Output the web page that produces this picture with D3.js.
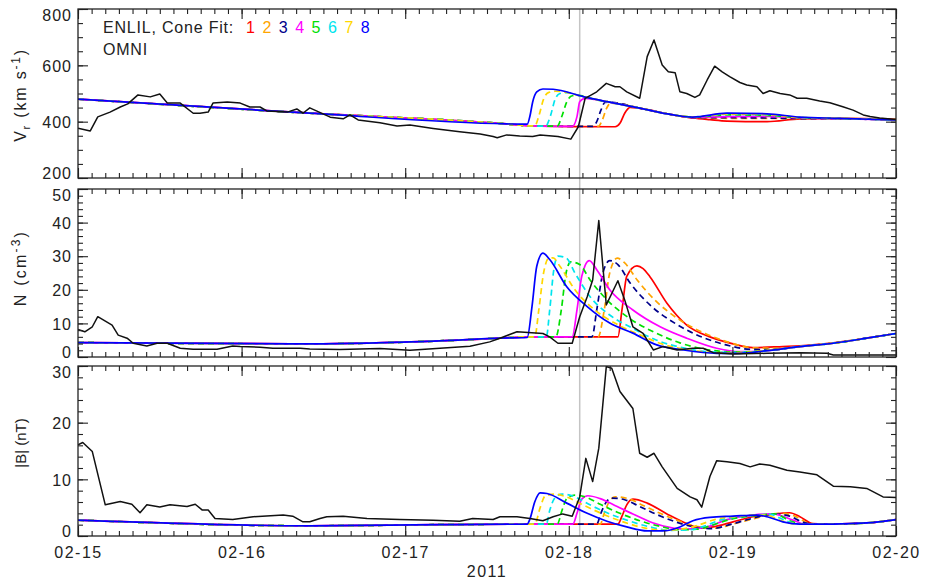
<!DOCTYPE html>
<html lang="en">

<head>
  <meta charset="UTF-8">
  <title>ENLIL cone fit vs OMNI</title>
  <style>
    body {
      margin: 0;
      background: #fff;
    }

    svg text {
      font-family: "Liberation Sans", Arial, sans-serif;
      fill: #222;
    }

    .tick line {
      stroke: #222;
    }
  </style>
</head>

<body>
  <svg id="chart" width="930" height="583"></svg>
  <script src="https://d3js.org/d3.v7.min.js"></script>
  <script>
    // time in hours from 2011-02-15 00:00 UT, value
    let omniVr = [[0, 377], [1.8, 367], [2.9, 417], [4.7, 434], [6.2, 452], [7.3, 463], [8.8, 495], [10.6, 488], [12.0, 498], [13.1, 466], [15.0, 466], [16.9, 430], [17.9, 430], [19.1, 434], [19.8, 466], [21.9, 470], [23.8, 466], [25.2, 452], [26.7, 452], [27.7, 438], [30.7, 434], [32.1, 445], [33.0, 430], [34.0, 449], [37.0, 416], [38.9, 410], [39.9, 424], [41.1, 406], [44.3, 396], [46.8, 385], [48.7, 388], [52.1, 376], [56.0, 364], [59.0, 356], [60.9, 347], [61.5, 343], [62.9, 353], [64.8, 349], [66.7, 347], [67.8, 353], [70.4, 347], [72.3, 338], [73.4, 382], [74.4, 483], [76.1, 506], [77.5, 536], [78.8, 524], [79.5, 524], [80.5, 506], [82.4, 483], [83.5, 631], [84.5, 690], [85.7, 601], [86.6, 577], [87.6, 574], [88.3, 506], [89.3, 500], [90.5, 486], [91.2, 495], [92.3, 548], [93.4, 597], [94.5, 577], [95.6, 560], [97.1, 539], [98.1, 530], [99.6, 524], [100.5, 500], [101.5, 510], [103.0, 500], [104.4, 495], [105.5, 483], [106.9, 483], [108.8, 473], [110.3, 467], [112.2, 453], [113.7, 441], [115.2, 424], [116.2, 418], [117.6, 413], [120, 408]]
    let omniN = [[0, 8.2], [1.0, 7.5], [2.1, 9.0], [2.9, 12], [5.0, 9.5], [5.9, 6.5], [7.2, 5.6], [8.1, 4.1], [10.1, 3.3], [11.6, 4.1], [13.1, 4.1], [15.0, 2.6], [16.9, 2.3], [20.4, 2.3], [22.7, 3.3], [23.8, 3.1], [26.7, 2.9], [28.6, 2.6], [32.6, 2.6], [34.0, 2.4], [38.4, 2.2], [44.3, 2.5], [48.7, 2.0], [53.1, 2.6], [57.5, 3.2], [60.4, 4.5], [61.9, 5.6], [64.4, 7.5], [68.2, 7.0], [69.2, 6.0], [70.4, 4.1], [72.5, 4.1], [73.6, 12], [74.7, 17.9], [75.5, 22.9], [76.4, 40.6], [77.5, 15.5], [79.2, 22.7], [80.2, 17], [81.4, 9], [82.9, 7], [84.4, 2.1], [85.8, 3.1], [87.9, 2.1], [90.2, 2.6], [91.7, 2.6], [93.2, 1.3], [96.1, 0.9], [101.1, 1.1], [105.9, 1.3], [109.9, 1.1], [110.8, 0.6], [115.7, 0.6], [120, 0.6]]
    let omniB = [[0, 16.1], [0.7, 16.5], [2.1, 14.9], [4.0, 5.5], [6.2, 6.1], [7.9, 5.6], [9.1, 4.1], [10.1, 5.5], [12.0, 5.1], [13.5, 5.5], [16.0, 5.2], [17.2, 5.6], [18.2, 4.6], [19.1, 4.6], [20.1, 3.1], [22.7, 2.9], [25.7, 3.4], [30.1, 3.7], [31.5, 3.5], [33.0, 2.5], [34.0, 2.5], [35.5, 3.1], [36.5, 3.4], [38.9, 3.5], [42.4, 3.1], [47.2, 2.9], [52.1, 2.8], [56.0, 2.6], [57.9, 3.1], [60.9, 2.9], [61.9, 3.4], [64.4, 3.4], [66.3, 3.1], [68.2, 2.7], [69.7, 3.4], [71.1, 3.9], [72.5, 3.5], [73.6, 6.9], [74.5, 13.7], [75.5, 9.6], [76.4, 15.5], [77.5, 29.9], [78.3, 29.6], [79.5, 25.5], [81.4, 22.5], [82.4, 14.6], [83.5, 13.9], [84.5, 14.6], [85.7, 12.2], [87.9, 8.4], [89.8, 6.9], [90.8, 6.4], [91.5, 5.1], [92.7, 10.5], [93.7, 13.3], [95.2, 13.1], [97.1, 12.8], [98.6, 12.2], [100.0, 12.7], [101.5, 12.5], [104.0, 11.6], [105.9, 11.3], [108.4, 10.8], [110.8, 8.8], [113.3, 8.7], [115.7, 8.4], [118.1, 6.9], [120, 6.8]]

    // ENLIL cone fit runs 1..8
    let vrRun1 = [[0, 480], [34.0, 430], [62.9, 392], [66.3, 385], [78.8, 382], [79.5, 394], [80.2, 430], [81.0, 451], [82.4, 447], [87.3, 424], [90.2, 413], [92.7, 407], [95.2, 402], [101.1, 400], [105.9, 410], [111.8, 412], [120, 410]]
    let vrRun2 = [[0, 480], [34.0, 430], [62.9, 392], [66.3, 385], [76.3, 383], [76.9, 405], [77.5, 445], [78.1, 465], [78.8, 465], [82.4, 448], [87.3, 424], [90.2, 414], [95.2, 412], [101.1, 412], [105.9, 411], [111.8, 410], [120, 407]]
    let vrRun3 = [[0, 480], [34.0, 430], [62.9, 392], [66.3, 385], [75.5, 383], [76.1, 400], [76.7, 440], [77.3, 468], [78.0, 469], [82.4, 448], [87.3, 424], [90.2, 414], [95.2, 414], [101.1, 413], [105.9, 411], [111.8, 410], [120, 406]]
    let vrRun4 = [[0, 480], [34.0, 430], [62.9, 392], [66.3, 385], [72.5, 383], [73.2, 418], [73.6, 471], [74.4, 483], [75.8, 479], [77.6, 471], [82.4, 448], [87.3, 424], [90.2, 415], [95.2, 418], [101.1, 419], [105.9, 413], [111.8, 410], [120, 407]]
    let vrRun5 = [[0, 480], [34.0, 430], [62.9, 392], [66.3, 385], [70.3, 384], [71.0, 420], [71.7, 470], [72.5, 492], [73.4, 493], [75.8, 479], [77.6, 471], [82.4, 448], [87.3, 424], [90.2, 416], [95.2, 424], [101.1, 422], [105.9, 414], [111.8, 411], [120, 407]]
    let vrRun6 = [[0, 480], [34.0, 430], [62.9, 392], [66.3, 385], [68.6, 384], [69.3, 420], [70.0, 480], [70.7, 500], [71.6, 503], [74.1, 489], [77.6, 471], [82.4, 448], [87.3, 424], [90.2, 417], [95.2, 426], [101.1, 424], [105.9, 415], [111.8, 411], [120, 407]]
    let vrRun7 = [[0, 480], [34.0, 430], [62.9, 392], [66.3, 385], [67.0, 385], [67.6, 420], [68.3, 480], [69.0, 503], [70.0, 508], [71.1, 506], [74.1, 489], [77.6, 471], [82.4, 448], [87.3, 424], [90.2, 417], [95.2, 427], [101.1, 425], [105.9, 415], [111.8, 412], [120, 407]]
    let vrRun8 = [[0, 480], [34.0, 430], [62.9, 392], [65.9, 391], [66.3, 420], [66.7, 470], [67.3, 506], [68.2, 516], [69.7, 515], [74.1, 489], [77.6, 471], [82.4, 448], [87.3, 424], [90.2, 416], [95.2, 430], [101.1, 428], [105.9, 416], [111.8, 412], [120, 406]]

    let nRun1 = [[0, 4.3], [34.0, 3.9], [53.1, 4.8], [61.9, 5.6], [66.3, 6.0], [79.2, 6.0], [79.8, 14], [80.5, 24], [82.0, 27.1], [82.9, 26.3], [83.9, 23.9], [86.4, 16], [89.3, 9.5], [92.7, 6], [96.1, 3.9], [99.0, 2.8], [103.4, 3.1], [105.9, 3.3], [110.8, 4.2], [115.7, 5.6], [120, 7.0]]
    let nRun2 = [[0, 4.3], [34.0, 3.9], [53.1, 4.8], [61.9, 5.6], [66.3, 6.0], [76.3, 6.0], [77.2, 14], [78.0, 25], [79.1, 29.4], [80.2, 28], [82.0, 23], [84.6, 17], [88.3, 11], [92.0, 7], [95.6, 4.3], [99.3, 2.7], [103.0, 2.6], [105.9, 3.1], [110.8, 4.1], [115.7, 5.6], [120, 7.0]]
    let nRun3 = [[0, 4.3], [34.0, 3.9], [53.1, 4.8], [61.9, 5.6], [66.3, 6.0], [75.4, 6.0], [76.1, 14], [77.0, 25], [78.0, 28.7], [79.2, 27.5], [81.0, 22], [83.9, 15.5], [87.6, 10], [91.2, 6.2], [94.9, 3.7], [98.6, 2.3], [102.2, 2.2], [105.9, 3.1], [110.8, 4.1], [115.7, 5.6], [120, 7.0]]
    let nRun4 = [[0, 4.3], [34.0, 3.9], [53.1, 4.8], [61.9, 5.6], [66.3, 6.0], [72.5, 6.0], [73.2, 14], [73.9, 24], [75.0, 28.7], [76.1, 26], [78.0, 20], [81.4, 14], [85.4, 9], [89.3, 5.6], [93.7, 2.6], [97.1, 1.6], [101.5, 2.0], [105.9, 3.1], [110.8, 4.1], [115.7, 5.6], [120, 7.0]]
    let nRun5 = [[0, 4.3], [34.0, 3.9], [53.1, 4.8], [61.9, 5.6], [66.3, 6.0], [70.1, 6.0], [70.9, 14], [71.6, 25], [72.3, 28.3], [73.6, 27.5], [75.1, 23], [77.6, 17], [80.9, 11.5], [84.6, 7.3], [88.3, 4.2], [92.0, 2.3], [96.4, 1.5], [100.8, 1.9], [105.9, 3.1], [110.8, 4.1], [115.7, 5.6], [120, 7.0]]
    let nRun6 = [[0, 4.3], [34.0, 3.9], [53.1, 4.8], [61.9, 5.6], [66.3, 6.0], [68.7, 6.0], [69.2, 14], [69.8, 26], [70.4, 30], [71.6, 29.5], [72.9, 25], [75.1, 18], [78.0, 12.5], [81.4, 8.5], [84.9, 5], [88.8, 2.7], [92.7, 1.5], [97.1, 1.4], [101.5, 2.0], [105.9, 3.1], [110.8, 4.1], [115.7, 5.6], [120, 7.0]]
    let nRun7 = [[0, 4.3], [34.0, 3.9], [53.1, 4.8], [61.9, 5.6], [66.3, 6.0], [67.0, 6.0], [67.6, 14], [68.3, 25], [69.0, 29.3], [69.7, 29.5], [70.7, 27], [72.9, 20], [75.8, 14], [79.2, 9.6], [82.4, 6.6], [86.1, 3.6], [89.8, 2.0], [94.2, 1.3], [97.8, 1.4], [101.5, 2.1], [105.9, 3.1], [110.8, 4.1], [115.7, 5.6], [120, 7.0]]
    let nRun8 = [[0, 4.3], [34.0, 3.9], [53.1, 4.8], [61.9, 5.6], [65.9, 5.8], [66.6, 15], [67.3, 27], [68.2, 30.9], [69.2, 29], [71.7, 20.9], [74.7, 15], [78.0, 10.1], [81.4, 7.1], [84.9, 3.6], [88.8, 2.1], [93.7, 1.1], [97.1, 1.1], [101.1, 1.9], [105.9, 3.1], [110.8, 4.1], [115.7, 5.6], [120, 7.0]]

    let bRun1 = [[0, 2.8], [34.0, 1.8], [53.1, 2.0], [65.9, 2.1], [79.2, 2.1], [79.8, 3.5], [80.5, 5.5], [81.4, 6.5], [83.5, 5.8], [86.4, 3.9], [89.3, 2.2], [91.2, 1.4], [93.2, 1.6], [96.1, 2.5], [99.0, 3.4], [101.1, 3.7], [104.4, 4.1], [105.9, 3.4], [107.8, 2.2], [110.8, 2.1], [115.7, 2.3], [120, 2.9]]
    let bRun2 = [[0, 2.8], [34.0, 1.8], [53.1, 2.0], [65.9, 2.1], [76.6, 2.1], [77.2, 4], [77.9, 6], [78.8, 6.9], [80.7, 6.6], [82.9, 5.4], [85.4, 4.0], [88.3, 2.6], [91.2, 1.6], [93.4, 1.4], [96.1, 2.1], [99.3, 3.1], [103.0, 4.0], [105.2, 3.5], [107.1, 2.3], [108.6, 2.1], [110.8, 2.1], [115.7, 2.3], [120, 2.9]]
    let bRun3 = [[0, 2.8], [34.0, 1.8], [53.1, 2.0], [65.9, 2.1], [76.1, 2.1], [76.7, 4], [77.5, 6], [78.3, 6.7], [80.2, 6.4], [82.4, 5.2], [84.9, 3.8], [87.9, 2.4], [90.8, 1.5], [93.0, 1.3], [95.6, 2.0], [98.6, 3.0], [102.2, 3.9], [104.4, 3.5], [106.4, 2.4], [108.1, 2.1], [110.8, 2.1], [115.7, 2.3], [120, 2.9]]
    let bRun4 = [[0, 2.8], [34.0, 1.8], [53.1, 2.0], [65.9, 2.1], [72.6, 2.1], [73.2, 4], [73.9, 6.5], [74.8, 7.1], [76.6, 6.6], [79.1, 5.2], [81.4, 3.9], [84.4, 2.3], [87.3, 1.4], [89.3, 1.2], [92.3, 1.6], [95.2, 2.9], [99.0, 3.7], [101.9, 3.9], [104.9, 2.8], [106.6, 2.1], [110.8, 2.1], [115.7, 2.3], [120, 2.9]]
    let bRun5 = [[0, 2.8], [34.0, 1.8], [53.1, 2.0], [65.9, 2.1], [70.3, 2.1], [71.0, 4.5], [71.7, 6.6], [72.9, 7.2], [74.4, 6.9], [76.6, 5.6], [79.5, 4.0], [82.4, 2.7], [85.4, 1.7], [88.3, 1.1], [90.8, 1.2], [93.0, 1.9], [95.6, 2.9], [99.3, 3.6], [102.2, 3.9], [104.4, 2.7], [106.6, 2.1], [110.8, 2.1], [115.7, 2.3], [120, 2.9]]
    let bRun6 = [[0, 2.8], [34.0, 1.8], [53.1, 2.0], [65.9, 2.1], [68.7, 2.1], [69.2, 4.5], [70.0, 6.8], [71.0, 7.4], [72.5, 7.1], [75.1, 5.5], [78.0, 3.9], [81.0, 2.6], [83.9, 1.6], [86.8, 1.0], [89.8, 1.1], [92.0, 1.8], [94.2, 2.8], [97.8, 3.5], [101.5, 3.8], [104.0, 2.6], [106.2, 2.1], [110.8, 2.1], [115.7, 2.3], [120, 2.9]]
    let bRun7 = [[0, 2.8], [34.0, 1.8], [53.1, 2.0], [65.9, 2.1], [67.0, 2.1], [67.8, 5], [68.5, 7], [70.0, 7.4], [71.4, 7.0], [74.4, 5.3], [77.3, 3.7], [80.2, 2.4], [83.2, 1.4], [86.1, 1.0], [89.0, 1.3], [91.2, 2.0], [93.4, 2.9], [97.1, 3.5], [100.8, 3.7], [103.4, 2.6], [105.9, 2.1], [110.8, 2.1], [115.7, 2.3], [120, 2.9]]
    let bRun8 = [[0, 2.8], [34.0, 1.8], [53.1, 2.0], [65.9, 2.1], [66.3, 3], [67.0, 6], [67.8, 7.6], [68.8, 7.5], [71.7, 5.8], [74.7, 4.0], [77.6, 2.6], [80.5, 1.6], [83.5, 0.9], [85.8, 0.9], [88.3, 1.6], [90.2, 2.7], [92.7, 3.3], [96.1, 3.5], [99.6, 3.7], [101.1, 3.4], [103.4, 2.5], [105.9, 2.1], [110.8, 2.1], [115.7, 2.3], [120, 2.9]]

    let runLabels = ['1', '2', '3', '4', '5', '6', '7', '8']
    let runColors = ['#ff0000', '#ffa500', '#00008b', '#ff00ff', '#00e000', '#00e5ee', '#ffd700', '#0000ff']
    let runDashed = [false, true, true, false, true, true, true, false]

    let markerHour = 73.6 // grey line

    let panels = [
      { runs: [vrRun1, vrRun2, vrRun3, vrRun4, vrRun5, vrRun6, vrRun7, vrRun8], omni: omniVr, domain: [200, 800], major: 200, minor: 50, top: 9, bottom: 178, label: 'vr', labelY: 95 },
      { runs: [nRun1, nRun2, nRun3, nRun4, nRun5, nRun6, nRun7, nRun8], omni: omniN, domain: [0, 50], major: 10, minor: 2, top: 189, bottom: 357, label: 'n', labelY: 268 },
      { runs: [bRun1, bRun2, bRun3, bRun4, bRun5, bRun6, bRun7, bRun8], omni: omniB, domain: [0, 30], major: 10, minor: 2, top: 366, bottom: 536, label: 'b', labelY: 443 }
    ]

    let left = 78
    let right = 896
    let t0 = Date.UTC(2011, 1, 15)
    let toDate = h => new Date(t0 + h * 3600e3)

    let svg = d3.select('#chart')

    let x = d3.scaleUtc()
      .domain([toDate(0), toDate(120)])
      .range([left, right])

    let hourTicks = d3.utcHour.every(2).range(toDate(0), toDate(120.01))
    let dayTicks = d3.utcDay.range(toDate(0), toDate(120.01))

    // grey marker line across all panels
    svg.append('line')
      .attr('x1', x(toDate(markerHour)))
      .attr('x2', x(toDate(markerHour)))
      .attr('y1', panels[0].top)
      .attr('y2', panels[2].bottom)
      .attr('stroke', '#c4c4c4')
      .attr('stroke-width', 1.5)

    panels.forEach((p, k) => {
      let y = d3.scaleLinear()
        .domain(p.domain)
        .range([p.bottom, p.top])

      let g = svg.append('g')

      g.append('clipPath')
        .attr('id', 'clip' + k)
        .append('rect')
        .attr('x', left)
        .attr('y', p.top)
        .attr('width', right - left)
        .attr('height', p.bottom - p.top)

      let line = d3.line()
        .x(d => x(toDate(d[0])))
        .y(d => y(d[1]))

      let plot = g.append('g').attr('clip-path', `url(#clip${k})`)

      // model runs
      p.runs.forEach((run, i) => {
        plot.append('path')
          .datum(run)
          .attr('fill', 'none')
          .attr('stroke', runColors[i])
          .attr('stroke-width', 1.7)
          .attr('stroke-dasharray', runDashed[i] ? '6,4' : null)
          .attr('d', line.curve(d3.curveMonotoneX))
      })

      // OMNI observations
      plot.append('path')
        .datum(p.omni)
        .attr('fill', 'none')
        .attr('stroke', '#111')
        .attr('stroke-width', 1.5)
        .attr('stroke-linejoin', 'round')
        .attr('d', line.curve(d3.curveLinear))

      // y ticks
      let yMinor = d3.range(p.domain[0], p.domain[1] + 0.001, p.minor)
      let yMajor = d3.range(p.domain[0], p.domain[1] + 0.001, p.major)

      g.append('g')
        .attr('transform', `translate(${left},0)`)
        .call(d3.axisLeft(y).tickValues(yMinor).tickSize(-5).tickFormat(''))
        .call(a => a.select('.domain').remove())
      let yAxis = g.append('g')
        .attr('transform', `translate(${left},0)`)
        .call(d3.axisLeft(y).tickValues(yMajor).tickSize(-10).tickPadding(6).tickFormat(d3.format('d')))
        .call(a => a.select('.domain').remove())
      yAxis.selectAll('text')
        .style('font-size', '16px')
        .style('letter-spacing', '1px')
        .attr('dy', d => d == p.domain[1] ? '0.72em' : d == p.domain[0] ? '0em' : '0.36em')

      g.append('g')
        .attr('transform', `translate(${right},0)`)
        .call(d3.axisRight(y).tickValues(yMinor).tickSize(-5).tickFormat(''))
        .call(a => a.select('.domain').remove())
      g.append('g')
        .attr('transform', `translate(${right},0)`)
        .call(d3.axisRight(y).tickValues(yMajor).tickSize(-10).tickFormat(''))
        .call(a => a.select('.domain').remove())

      // x ticks top and bottom
      g.append('g')
        .attr('transform', `translate(0,${p.top})`)
        .call(d3.axisTop(x).tickValues(hourTicks).tickSize(-5).tickFormat(''))
        .call(a => a.select('.domain').remove())
      g.append('g')
        .attr('transform', `translate(0,${p.top})`)
        .call(d3.axisTop(x).tickValues(dayTicks).tickSize(-10).tickFormat(''))
        .call(a => a.select('.domain').remove())
      g.append('g')
        .attr('transform', `translate(0,${p.bottom})`)
        .call(d3.axisBottom(x).tickValues(hourTicks).tickSize(-5).tickFormat(''))
        .call(a => a.select('.domain').remove())
      let xAxis = g.append('g')
        .attr('transform', `translate(0,${p.bottom})`)
        .call(d3.axisBottom(x).tickValues(dayTicks).tickSize(-10).tickPadding(11)
          .tickFormat(k == 2 ? d3.utcFormat('%m-%d') : ''))
        .call(a => a.select('.domain').remove())
      xAxis.selectAll('text')
        .style('font-size', '16px')
        .style('letter-spacing', '1.5px')

      g.selectAll('.tick line').attr('stroke-width', 1.1)

      // frame
      g.append('rect')
        .attr('x', left)
        .attr('y', p.top)
        .attr('width', right - left)
        .attr('height', p.bottom - p.top)
        .attr('fill', 'none')
        .attr('stroke', '#222')
        .attr('stroke-width', 1.3)

      // y title
      let title = g.append('text')
        .attr('transform', `translate(26,${p.labelY}) rotate(-90)`)
        .attr('text-anchor', 'middle')
        .style('font-size', '16px')
      if (p.label == 'vr') {
        title.style('letter-spacing', '1.8px')
        title.append('tspan').text('V')
        title.append('tspan').attr('dy', 4).style('font-size', '11px').text('r')
        title.append('tspan').attr('dy', -4).text(' (km s')
        title.append('tspan').attr('dy', -6).style('font-size', '12px').text('-1')
        title.append('tspan').attr('dy', 6).text(')')
      } else if (p.label == 'n') {
        title.style('letter-spacing', '2.2px')
        title.append('tspan').text('N (cm')
        title.append('tspan').attr('dy', -6).style('font-size', '12px').text('-3')
        title.append('tspan').attr('dy', 6).text(')')
      } else {
        title.style('font-size', '15px')
        title.text('|B| (nT)')
      }
    })

    // year label
    svg.append('text')
      .attr('x', (left + right) / 2)
      .attr('y', 577)
      .attr('text-anchor', 'middle')
      .style('font-size', '16px')
      .style('letter-spacing', '1.5px')
      .text('2011')

    // legend
    let legend = svg.append('g')
    legend.append('text')
      .attr('x', 103)
      .attr('y', 33)
      .style('font-size', '16px')
      .style('letter-spacing', '0.8px')
      .text('ENLIL, Cone Fit:')
    legend.selectAll('.num')
      .data(runLabels)
      .enter()
      .append('text')
      .attr('class', 'num')
      .attr('x', (d, i) => 246 + i * 16.4)
      .attr('y', 33)
      .style('font-size', '16px')
      .style('fill', (d, i) => runColors[i])
      .text(d => d)
    legend.append('text')
      .attr('x', 103)
      .attr('y', 55)
      .style('font-size', '16px')
      .style('letter-spacing', '0.8px')
      .text('OMNI')
  </script>
</body>

</html>
